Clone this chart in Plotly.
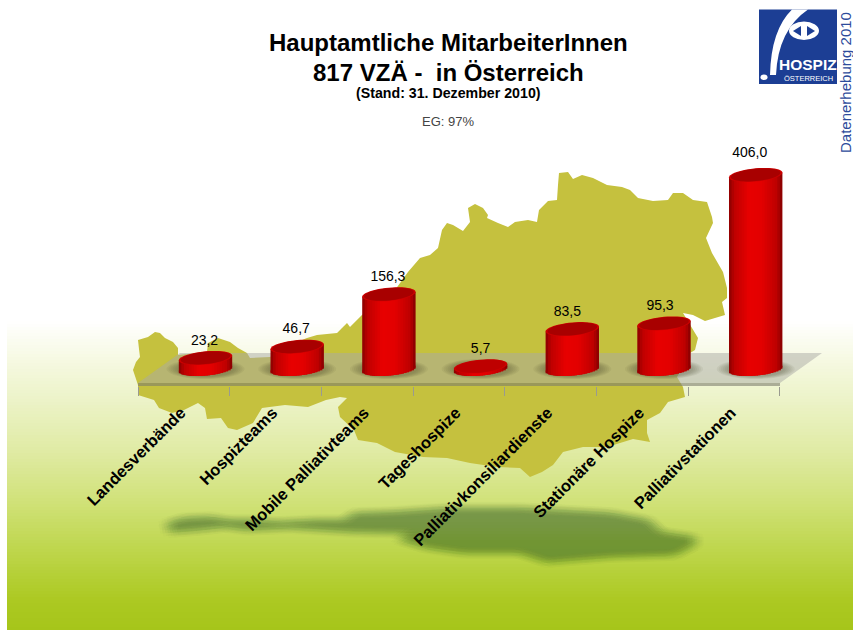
import math
import plotly.graph_objects as go

# ---- data ----
CATEGORIES = ["Landesverbände", "Hospizteams", "Mobile Palliativteams", "Tageshospize",
              "Palliativkonsiliardienste", "Stationäre Hospize", "Palliativstationen"]
VALUES = [23.2, 46.7, 156.3, 5.7, 83.5, 95.3, 406.0]
VALUE_LABELS = ["23,2", "46,7", "156,3", "5,7", "83,5", "95,3", "406,0"]

TITLE_LINE_1 = "Hauptamtliche MitarbeiterInnen"
TITLE_LINE_2 = "817 VZÄ -\u00a0\u00a0in Österreich"
SUBTITLE = "(Stand: 31. Dezember 2010)"
COVERAGE = "EG: 97%"
SIDE_NOTE = "Datenerhebung 2010"

# decorative silhouette of Austria (page pixels)
MAP_OUTLINE = [(133,370),(136,362),(140,357),(139,349),(138,340),(148,337),(155,332),(160,333),(165,338),
 (173,342),(178,348),(178,355),(207,352),(208,343),(218,338),(230,342),(238,348),(247,353),(250,358),
 (270,357),(297,342),(307,338),(317,335),(337,333),(342,328),(347,323),(350,327),(362,315),(395,290),
 (408,272),(420,258),(430,255),(438,248),(442,230),(447,223),(453,225),(463,231),(470,222),(468,208),
 (475,204),(483,208),(488,215),(487,218),(498,223),(508,227),(515,222),(528,220),(537,222),(539,210),
 (548,201),(557,200),(558,185),(559,173),(568,172),(573,179),(582,175),(593,178),(607,185),(622,187),
 (630,190),(638,198),(653,201),(668,200),(673,193),(683,193),(693,200),(707,202),(712,217),(713,223),
 (706,238),(712,253),(723,272),(727,288),(727,298),(722,302),(725,315),(705,321),(693,315),(683,313),
 (692,328),(698,338),(695,350),(690,353),(677,377),(683,387),(685,397),(668,402),(660,413),(647,420),
 (647,433),(650,442),(633,439),(607,447),(583,447),(563,452),(553,465),(542,472),(530,477),(520,468),
 (497,467),(470,463),(447,458),(423,457),(395,452),(377,443),(358,440),(354,430),(340,417),(338,407),
 (347,398),(340,397),(326,400),(308,407),(285,405),(262,408),(253,423),(237,430),(228,428),(221,418),
 (207,419),(205,408),(198,403),(184,410),(172,413),(159,408),(154,400),(138,395),(138,385)]
SHADOW_OUTLINE = [(168,523),(184,518),(211,517),(228,520),(253,520),(280,522),(317,520),(345,520),(354,513),
 (391,512),(450,508),(519,508),(611,513),(648,520),(661,532),(694,537),(694,545),(675,555),(611,557),
 (547,562),(519,553),(464,553),(427,548),(400,540),(409,533),(354,532),(290,528),(248,530),(225,527),
 (198,530),(170,532)]
GRADIENT_STOPS = [(321,(255,255,255)),(360,(246,249,226)),(400,(236,243,200)),(450,(224,235,165)),
 (500,(209,226,122)),(550,(190,214,76)),(600,(172,201,34)),(630,(166,197,26))]
BODY_SHADE = [(0,(136,0,0)),(.1,(190,0,0)),(.38,(232,0,0)),(.62,(226,0,0)),(.9,(188,0,0)),(1,(130,0,0))]
LABEL_NUDGE_X = [-1, -1, -1, 0, -5, -4, -6]
LABEL_NUDGE_Y = [0, 1, 0, 0, 0, 0, 5]

# ---- page geometry ----
W, H = 853, 630
AXIS_Y = 386            # page y of the front floor edge (bottom of plot area)
ZERO_Y = 369            # page y of value 0 at the bar centre
PX_PER_UNIT = 0.478     # vertical scale
TICK_START, SLOT = 138.0, 91.7
BAR_X0 = 205.5          # page x of first bar centre
RX, RY, TILT = 26.7, 6.6, 0.09


def px(x):
    return x / W


def py(y):
    return (AXIS_Y - y) / AXIS_Y


def paper_path(points, dx=0, dy=0):
    return "M " + " L ".join(f"{px(x+dx):.5f} {py(y+dy):.5f}" for x, y in points) + " Z"


def lerp_stops(stops, t):
    for (a, ca), (b, cb) in zip(stops, stops[1:]):
        if a <= t <= b:
            f = (t - a) / (b - a)
            return tuple(round(p + (q - p) * f) for p, q in zip(ca, cb))
    return stops[-1][1]


def ellipse_path(i, centre_value, scale=1.0):
    """Sheared ellipse in data coordinates of x2/y."""
    pts = []
    for k in range(48):
        a = 2 * math.pi * k / 48
        dx = RX * scale * math.cos(a)
        up = RY * scale * math.sin(a) + TILT * dx
        pts.append((i + dx / SLOT, centre_value + up / PX_PER_UNIT))
    return "M " + " L ".join(f"{x:.5f} {y:.3f}" for x, y in pts) + " Z"


def ellipse_simple(i, centre_value, rx, ry):
    pts = []
    for k in range(40):
        a = 2 * math.pi * k / 40
        pts.append((i + rx * math.cos(a) / SLOT, centre_value + ry * math.sin(a) / PX_PER_UNIT))
    return "M " + " L ".join(f"{x:.5f} {y:.3f}" for x, y in pts) + " Z"


shapes = []
# background gradient
shapes.append(dict(type="rect", xref="paper", yref="paper", x0=px(7), x1=px(W), y0=py(321), y1=py(H),
                   fillcolor="rgb(166,197,26)", line_width=0, layer="below"))
for y in range(321, H, 3):
    c = lerp_stops(GRADIENT_STOPS, y + 1.5)
    shapes.append(dict(type="rect", xref="paper", yref="paper", x0=px(7), x1=px(W), y0=py(y), y1=py(y + 3.4),
                       fillcolor=f"rgb{c}", line_width=0, layer="below"))
# blurred ground shadow of the map
for r, n in ((0, 1), (2.5, 5), (5, 7), (7.5, 9), (10, 11)):
    for k in range(n):
        a = 2 * math.pi * k / n
        shapes.append(dict(type="path", xref="paper", yref="paper",
                           path=paper_path(SHADOW_OUTLINE, r * math.cos(a), r * 0.6 * math.sin(a)),
                           fillcolor="rgb(70,80,30)", opacity=0.018, line_width=0, layer="below"))
# map
shapes.append(dict(type="path", xref="paper", yref="paper", path=paper_path(MAP_OUTLINE),
                   fillcolor="rgb(197,193,62)", line_width=0, layer="below"))
# floor
FLOOR = [(138, 383), (780, 383), (822, 353), (180, 353)]
shapes.append(dict(type="path", xref="paper", yref="paper", path=paper_path(FLOOR),
                   fillcolor="rgba(170,170,165,0.5)", line_width=0, layer="below"))
shapes.append(dict(type="rect", xref="paper", yref="paper", x0=px(138), x1=px(780), y0=py(383), y1=py(386),
                   fillcolor="rgba(125,125,110,0.6)", line_width=0, layer="below"))
# soft contact shadows + base ellipses
for i in range(len(VALUES)):
    for rx, ry in ((39, 10), (37, 9.5), (35, 9), (33, 8.5), (31, 8), (29, 7.5)):
        shapes.append(dict(type="path", xref="x2", yref="y", path=ellipse_simple(i, 0, rx, ry),
                           fillcolor="rgba(70,70,45,0.07)", line_width=0, layer="below"))
    shapes.append(dict(type="path", xref="x2", yref="y", path=ellipse_path(i, 0),
                       fillcolor="rgb(170,0,0)", line_width=0, layer="below"))
# top faces
for i, v in enumerate(VALUES):
    flat = v < 10
    shapes.append(dict(type="path", xref="x2", yref="y", path=ellipse_path(i, v),
                       fillcolor="rgb(205,0,0)", line_width=0, layer="above"))
    shapes.append(dict(type="path", xref="x2", yref="y", path=ellipse_path(i, v, 0.93),
                       fillcolor="rgb(190,0,0)" if flat else "rgb(168,0,0)", line_width=0, layer="above"))

fig = go.Figure()
# invisible trace that gives the category axis its labels
fig.add_trace(go.Scatter(x=CATEGORIES, y=[0] * len(CATEGORIES), mode="markers",
                         marker=dict(opacity=0), hoverinfo="skip", showlegend=False))
# cylinder bodies: narrow bar strips, each with its own shade
N_STRIPS = 21
strip_px = 2 * RX / N_STRIPS
positions = list(range(len(VALUES)))
for s in range(N_STRIPS):
    dx = -RX + strip_px * (s + 0.5)
    t = (s + 0.5) / N_STRIPS
    low = (-RY * math.sqrt(max(0, 1 - (dx / RX) ** 2)) + TILT * dx) / PX_PER_UNIT
    tops = [v + TILT * dx / PX_PER_UNIT for v in VALUES]
    r, g, b = lerp_stops(BODY_SHADE, t)
    fig.add_trace(go.Bar(
        x=positions, y=[tp - low for tp in tops], base=[low] * len(VALUES),
        xaxis="x2", yaxis="y", width=(strip_px + (1.0 if s < N_STRIPS - 1 else 0)) / SLOT,
        offset=(dx - strip_px / 2) / SLOT,
        marker=dict(color=f"rgba({r},{g},{b},0.999)", line_width=0),
        hoverinfo="skip", showlegend=False))
# value labels
fig.add_trace(go.Scatter(
    x=[p + n / SLOT for p, n in zip(positions, LABEL_NUDGE_X)],
    y=[v + 20 + n / PX_PER_UNIT for v, n in zip(VALUES, LABEL_NUDGE_Y)],
    xaxis="x2", yaxis="y", mode="text",
    text=VALUE_LABELS, textposition="top center",
    textfont=dict(family="Liberation Sans, Arial", size=14, color="black"),
    hoverinfo="skip", showlegend=False, cliponaxis=False))

# logo
LB = "rgb(28,62,148)"
shapes += [
    dict(type="rect", xref="paper", yref="paper", x0=px(759), x1=px(837), y0=py(9.5), y1=py(84),
         fillcolor=LB, line_width=0, layer="above"),
    dict(type="path", xref="paper", yref="paper", fillcolor="white", line_width=0, layer="above",
         path=f"M {px(770)} {py(75)} Q {px(771)} {py(30)} {px(792)} {py(9.5)} L {px(808)} {py(9.5)} "
              f"Q {px(778)} {py(30)} {px(776)} {py(75)} Z"),
    dict(type="circle", xref="paper", yref="paper", x0=px(760.5), x1=px(767.5), y0=py(74.5), y1=py(80),
         fillcolor="white", line_width=0, layer="above"),
    dict(type="circle", xref="paper", yref="paper", x0=px(789), x1=px(819), y0=py(21.5), y1=py(40),
         fillcolor="white", line_width=0, layer="above"),
    dict(type="path", xref="paper", yref="paper", fillcolor=LB, line_width=0, layer="above",
         path=paper_path([(801, 26), (801, 36), (793, 31)])),
    dict(type="path", xref="paper", yref="paper", fillcolor=LB, line_width=0, layer="above",
         path=paper_path([(807, 26), (807, 36), (815, 31)])),
]


def note(text, x, y, size, bold=False, color="black", angle=0, family="Liberation Sans, Arial"):
    return dict(text=f"<b>{text}</b>" if bold else text, x=px(x), y=py(y), xref="paper", yref="paper",
                xanchor="center", yanchor="middle", showarrow=False, textangle=angle,
                font=dict(family=family, size=size, color=color))


annotations = [
    note(TITLE_LINE_1, 449, 43, 24, True),
    note(TITLE_LINE_2, 448, 72, 24, True),
    note(SUBTITLE, 448, 93, 14.2, True),
    note(COVERAGE, 448, 121, 13, False, "#444444"),
    note(SIDE_NOTE, 845, 83, 15, False, "rgb(45,75,155)", -90),
    note("HOSPIZ", 808, 64.5, 15.5, True, "white"),
    note("ÖSTERREICH", 808, 78, 7.5, False, "white"),
]

fig.update_layout(
    width=W, height=H, autosize=False, showlegend=False, barmode="overlay",
    margin=dict(l=0, r=0, t=0, b=H - AXIS_Y, pad=0),
    paper_bgcolor="white", plot_bgcolor="rgba(0,0,0,0)",
    xaxis=dict(type="category", categoryorder="array", categoryarray=CATEGORIES,
               range=[(0 - TICK_START) / SLOT - 0.5, (W - TICK_START) / SLOT - 0.5],
               tickmode="linear", tick0=0, dtick=1, tickson="boundaries", ticks="outside", ticklen=9,
               tickcolor="#9a9a90", tickwidth=1, tickangle=-45, showgrid=False, zeroline=False, showline=False,
               tickfont=dict(family="Liberation Sans, Arial", size=16.5, color="black"),
               ticklabelstandoff=13, ticklabelshift=-3, ticklabelposition="outside", automargin=False,
               tickprefix="<b>", ticksuffix="</b>"),
    xaxis2=dict(overlaying="x", anchor="y", side="bottom", visible=False, type="linear",
                range=[(0 - BAR_X0) / SLOT, (W - BAR_X0) / SLOT], showgrid=False),
    yaxis=dict(visible=False, range=[(ZERO_Y - AXIS_Y) / PX_PER_UNIT, ZERO_Y / PX_PER_UNIT], fixedrange=True),
    shapes=shapes, annotations=annotations,
)

fig.write_html("out.html", config={"displayModeBar": False},
               post_script="document.body.style.margin='0';document.body.style.overflow='hidden';")
